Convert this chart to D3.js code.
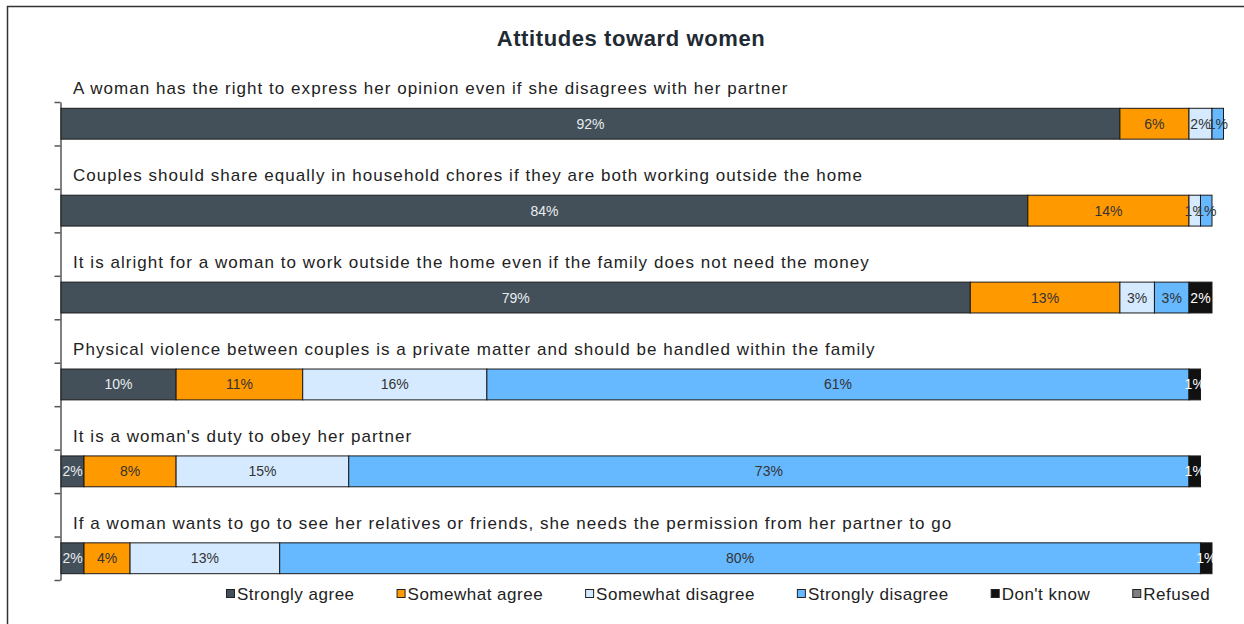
<!DOCTYPE html>
<html>
<head>
<meta charset="utf-8">
<script src="https://cdnjs.cloudflare.com/ajax/libs/d3/7.8.5/d3.min.js"></script>
<style>
  body { margin: 0; background: #fff; }
  svg { display: block; font-family: "Liberation Sans", Arial, sans-serif; }
</style>
</head>
<body>
<div id="chart"></div>
<script>
var svgWidth = 1244;
var svgHeight = 624;

// data
var statements = [
  "A woman has the right to express her opinion even if she disagrees with her partner",
  "Couples should share equally in household chores if they are both working outside the home",
  "It is alright for a woman to work outside the home even if the family does not need the money",
  "Physical violence between couples is a private matter and should be handled within the family",
  "It is a woman's duty to obey her partner",
  "If a woman wants to go to see her relatives or friends, she needs the permission from her partner to go"
];
var responses = ["Strongly agree", "Somewhat agree", "Somewhat disagree", "Strongly disagree", "Don't know", "Refused"];
var stronglyAgree    = [92, 84, 79, 10, 2, 2];
var somewhatAgree    = [6, 14, 13, 11, 8, 4];
var somewhatDisagree = [2, 1, 3, 16, 15, 13];
var stronglyDisagree = [1, 1, 3, 61, 73, 80];
var dontKnow         = [0, 0, 2, 1, 1, 1];
var refused          = [0, 0, 0, 0, 0, 0];

var colors = ["#435059", "#ff9900", "#d6eaff", "#66b8ff", "#111111", "#7f7f7f"];
var labelColors = ["#e8ecef", "#333", "#333", "#333", "#fff", "#fff"];

var seriesVals = [stronglyAgree, somewhatAgree, somewhatDisagree, stronglyDisagree, dontKnow, refused];

var rows = statements.map(function(s, i) {
  var row = { statement: s, index: i };
  responses.forEach(function(r, j) { row[r] = seriesVals[j][i]; });
  return row;
});

var stacked = d3.stack().keys(responses)(rows);

var svg = d3.select("#chart")
  .append("svg")
  .attr("width", svgWidth)
  .attr("height", svgHeight);

// outer frame
svg.append("path")
  .attr("d", "M7.5,630 L7.5,6.5 L1250,6.5")
  .attr("fill", "none")
  .attr("stroke", "#333")
  .attr("stroke-width", 1.5);

svg.append("text")
  .attr("x", 631)
  .attr("y", 46)
  .attr("text-anchor", "middle")
  .attr("font-size", 22)
  .attr("font-weight", "bold")
  .attr("letter-spacing", 0.6)
  .attr("fill", "#1f2a33")
  .text("Attitudes toward women");

var x = d3.scaleLinear().domain([0, 100]).range([61, 1212]);

// 11 rows: bars on even slots, statement text in between
var yAxisScale = d3.scaleLinear().domain([0, 11]).range([102, 580]);
var slot = d3.scaleBand().domain(d3.range(11)).range([102, 580]);
var barH = slot.bandwidth() * 0.71;
var barY = function(i) { return slot(i * 2) + (slot.bandwidth() - barH) / 2; };

var yAxis = d3.axisLeft(yAxisScale)
  .tickValues(d3.range(12))
  .tickFormat("")
  .tickSize(6)
  .tickSizeOuter(0);

var axisG = svg.append("g")
  .attr("transform", "translate(60.5,0)")
  .call(yAxis);
axisG.selectAll("path, line").attr("stroke", "#555").attr("stroke-width", 1.5);

// statement labels
svg.selectAll("text.stmt")
  .data(rows)
  .enter()
  .append("text")
  .attr("class", "stmt")
  .attr("x", 73)
  .attr("y", function(d) { return barY(d.index) - 14; })
  .attr("font-size", 17)
  .attr("letter-spacing", 1.05)
  .attr("fill", "#222")
  .text(function(d) { return d.statement; });

// segments
var layers = svg.selectAll("g.layer")
  .data(stacked)
  .enter()
  .append("g")
  .attr("class", "layer");

layers.selectAll("rect")
  .data(function(s) { return s.filter(function(d) { return d[1] - d[0] > 0; }); })
  .enter()
  .append("rect")
  .attr("x", function(d) { return x(d[0]); })
  .attr("y", function(d) { return barY(d.data.index); })
  .attr("width", function(d) { return x(d[1]) - x(d[0]); })
  .attr("height", barH)
  .attr("fill", function() { return colors[responses.indexOf(d3.select(this.parentNode).datum().key)]; })
  .attr("stroke", "#1a1a1a")
  .attr("stroke-width", 1);

layers.each(function(s) {
  var k = responses.indexOf(s.key);
  d3.select(this).selectAll("text")
    .data(s.filter(function(d) { return d[1] - d[0] > 0; }))
    .enter()
    .append("text")
    .attr("x", function(d) { return (x(d[0]) + x(d[1])) / 2; })
    .attr("y", function(d) { return barY(d.data.index) + barH / 2 + 5; })
    .attr("text-anchor", "middle")
    .attr("font-size", 14)
    .attr("fill", labelColors[k])
    .text(function(d) { return (d[1] - d[0]) + "%"; });
});

// legend
var legend = svg.append("g").attr("transform", "translate(226,594)");
var lx = 0;
responses.forEach(function(r, i) {
  var g = legend.append("g").attr("transform", "translate(" + lx + ",0)");
  g.append("rect")
    .attr("x", 0.5).attr("y", -4.5)
    .attr("width", 8).attr("height", 8)
    .attr("fill", colors[i])
    .attr("stroke", "#222");
  var t = g.append("text")
    .attr("x", 11)
    .attr("y", 6)
    .attr("font-size", 17)
    .attr("letter-spacing", 0.5)
    .attr("fill", "#222")
    .text(r);
  lx += 11 + t.node().getComputedTextLength() + 42;
});
</script>
</body>
</html>
